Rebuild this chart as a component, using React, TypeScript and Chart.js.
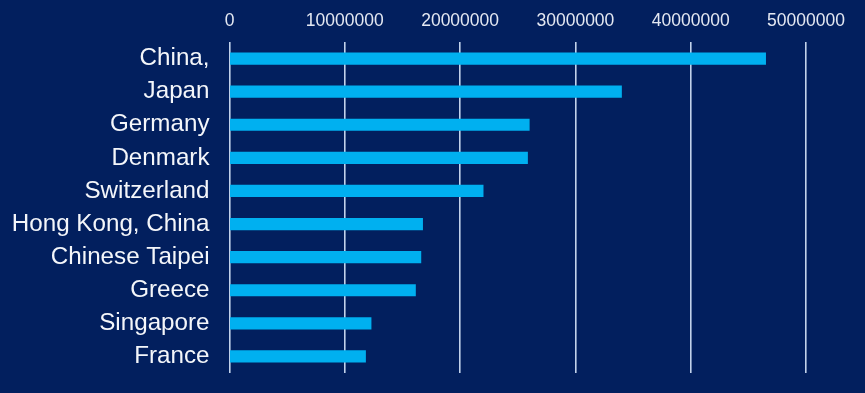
import React, { useEffect, useRef } from "react";
import { Chart, registerables } from "chart.js";

Chart.register(...registerables);

const categories = [
  "China,",
  "Japan",
  "Germany",
  "Denmark",
  "Switzerland",
  "Hong Kong, China",
  "Chinese Taipei",
  "Greece",
  "Singapore",
  "France",
];

const values = [
  46500000, 34000000, 26000000, 25850000, 22000000, 16750000, 16600000,
  16130000, 12280000, 11800000,
];

const xMin = 0;
const xMax = 50000000;
const xStep = 10000000;

const BG = "#021f5e";
const BAR = "#00b0f0";

export default function App() {
  const ref = useRef<HTMLCanvasElement | null>(null);

  useEffect(() => {
    if (!ref.current) return;
    const chart = new Chart(ref.current, {
      type: "bar",
      data: {
        labels: categories,
        datasets: [
          {
            data: values,
            backgroundColor: BAR,
            borderWidth: 0,
            barThickness: 11.5,
          },
        ],
      },
      options: {
        indexAxis: "y",
        responsive: false,
        animation: false,
        layout: { padding: { left: 0, right: 59, top: 0, bottom: 20 } },
        plugins: {
          legend: { display: false },
          tooltip: { enabled: false },
        },
        scales: {
          x: {
            position: "top",
            min: xMin,
            max: xMax,
            grid: {
              color: "rgba(215,228,250,0.9)",
              lineWidth: 1.6,
              drawTicks: false,
            },
            border: { display: false },
            ticks: {
              stepSize: xStep,
              color: "#e4e8f2",
              padding: 10,
              font: { family: "'Liberation Sans', Arial, sans-serif", size: 17.5 },
              callback: (v: any) => String(v),
              maxRotation: 0,
            },
            afterFit: (scale: any) => {
              scale.height = 42;
              scale.paddingLeft = 0;
              scale.paddingRight = 0;
            },
          },
          y: {
            grid: { display: false, drawTicks: false },
            border: { display: false },
            ticks: {
              color: "#f4f6fa",
              padding: 20,
              font: { family: "'Liberation Sans', Arial, sans-serif", size: 24.2 },
            },
            afterFit: (scale: any) => {
              scale.width = 229.5;
              scale.paddingTop = 0;
              scale.paddingBottom = 0;
            },
          },
        },
      },
    });
    return () => chart.destroy();
  }, []);

  return (
    <div
      style={{
        position: "fixed",
        left: 0,
        top: 0,
        width: 865,
        height: 393,
        background: BG,
      }}
    >
      <canvas ref={ref} width={865} height={393} style={{ display: "block" }} />
    </div>
  );
}
